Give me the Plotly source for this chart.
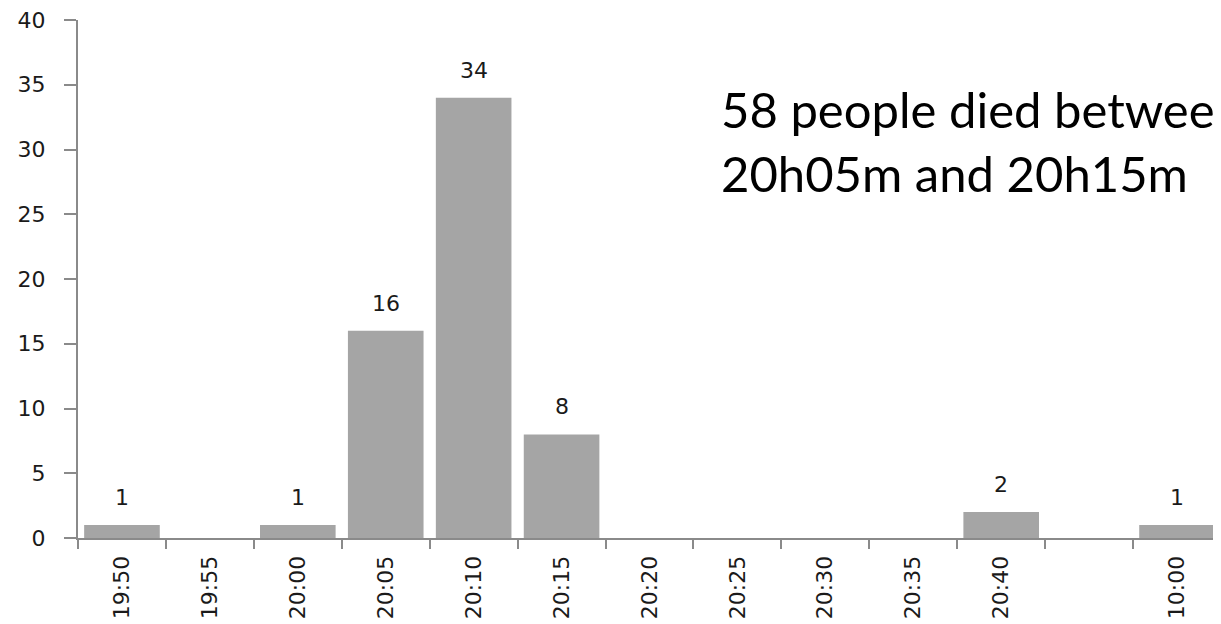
import plotly.graph_objects as go

categories = ["19:50", "19:55", "20:00", "20:05", "20:10", "20:15", "20:20",
              "20:25", "20:30", "20:35", "20:40", " ", "10:00"]
deaths = [1, 0, 1, 16, 34, 8, 0, 0, 0, 0, 2, 0, 1]
note_text = "58 people died betwee<br>20h05m and 20h15m"

fig = go.Figure()
fig.add_trace(go.Bar(
    x=categories, y=deaths,
    marker=dict(color="#a5a5a5", line=dict(width=0)),
    hoverinfo="skip",
))

for c, v in zip(categories, deaths):
    if v > 0:
        fig.add_annotation(x=c, y=v, text=str(v), showarrow=False,
                           yanchor="bottom", yshift=13,
                           font=dict(family="DejaVu Sans", size=22, color="#1a1a1a"))

fig.add_annotation(xref="paper", yref="paper", x=0.561, y=0.888,
                   xanchor="left", yanchor="top", align="left",
                   text=note_text, showarrow=False,
                   font=dict(family="Lato", size=49, color="#000000"))

# page body has an 8px default margin, so the figure is sized to the remaining area
fig.update_layout(
    width=1213, height=616,
    margin=dict(l=70, r=0, t=12, b=86),
    plot_bgcolor="white", paper_bgcolor="white",
    bargap=0.14, showlegend=False,
)
fig.update_xaxes(
    type="category", tickson="boundaries", automargin=False,
    showline=True, linecolor="#8a8a8a", linewidth=2,
    ticks="outside", ticklen=9, tickcolor="#8a8a8a", tickwidth=2,
    tickangle=-90, showgrid=False, ticklabelstandoff=7,
    ticklabeloverflow="allow",
    tickfont=dict(family="DejaVu Sans", size=22, color="#1a1a1a"),
)
fig.update_yaxes(
    range=[0, 40], dtick=5, showgrid=False, zeroline=False, automargin=False,
    showline=True, linecolor="#8a8a8a", linewidth=2,
    ticks="outside", ticklen=12, tickcolor="#8a8a8a", tickwidth=2,
    ticklabelstandoff=14, ticklabeloverflow="allow",
    tickfont=dict(family="DejaVu Sans", size=22, color="#1a1a1a"),
)

fig.write_html("out.html")
